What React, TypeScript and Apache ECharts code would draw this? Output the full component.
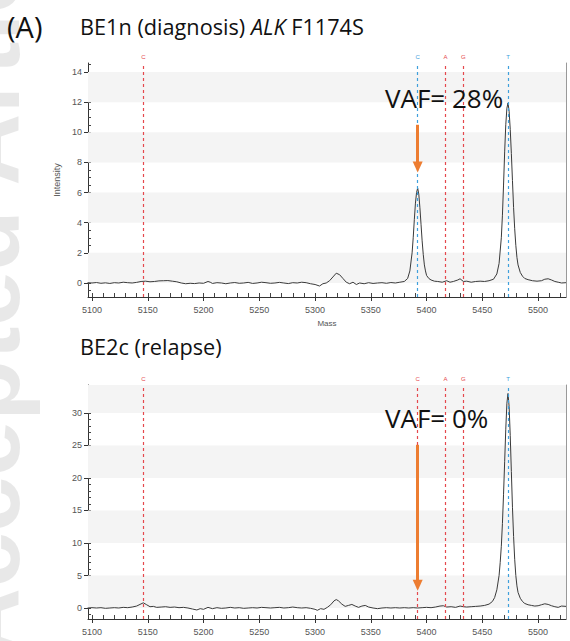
import React, { useEffect, useRef } from 'react';
import * as echarts from 'echarts';

// ---------- data ----------
const topSpectrum: [number, number][] = [
  [5096, 0.02], [5100, 0.0], [5104, 0.03], [5108, -0.02], [5112, 0.01], [5116, -0.03], [5120, 0.02],
  [5124, 0.0], [5128, 0.05], [5132, 0.02], [5136, 0.0], [5140, 0.04], [5144, 0.1], [5148, 0.12],
  [5152, 0.08], [5156, 0.1], [5160, 0.14], [5164, 0.15], [5168, 0.16], [5172, 0.12], [5176, 0.08],
  [5180, 0.0], [5184, -0.05], [5188, -0.02], [5192, -0.04], [5196, 0.0], [5200, -0.02], [5204, 0.1],
  [5206, 0.05], [5208, -0.03], [5212, 0.02], [5216, 0.0], [5220, -0.05], [5224, 0.0], [5228, 0.03],
  [5232, -0.02], [5236, 0.0], [5240, 0.04], [5244, -0.03], [5248, 0.0], [5252, 0.05], [5256, 0.02],
  [5260, -0.02], [5264, 0.0], [5268, 0.04], [5272, 0.0], [5276, -0.04], [5280, 0.02], [5284, 0.0],
  [5288, 0.05], [5292, 0.02], [5296, -0.05], [5300, -0.1], [5304, -0.2], [5307, -0.05], [5310, 0.0],
  [5313, 0.15], [5316, 0.4], [5319, 0.65], [5322, 0.55], [5325, 0.3], [5328, 0.05], [5331, -0.05],
  [5334, 0.05], [5337, -0.1], [5340, 0.0], [5344, -0.05], [5348, 0.02], [5352, -0.03], [5356, 0.0],
  [5360, 0.02], [5364, -0.02], [5368, 0.03], [5372, 0.0], [5376, 0.05], [5380, 0.1], [5383, 0.3],
  [5385, 0.8], [5387, 2.0], [5388, 3.0], [5389, 4.2], [5390, 5.3], [5391, 6.0], [5392, 6.3],
  [5393, 5.9], [5394, 5.0], [5395, 3.9], [5396, 2.8], [5397, 1.9], [5398, 1.2], [5399, 0.8],
  [5400, 0.5], [5402, 0.3], [5404, 0.2], [5407, 0.12], [5410, 0.1], [5414, 0.05], [5418, 0.15],
  [5421, 0.05], [5424, 0.1], [5428, 0.2], [5430, 0.28], [5433, 0.1], [5436, 0.12], [5440, 0.05],
  [5444, 0.1], [5448, 0.12], [5452, 0.1], [5456, 0.15], [5460, 0.25], [5463, 0.6], [5465, 1.3],
  [5467, 3.0], [5468, 4.5], [5469, 6.5], [5470, 8.7], [5471, 10.5], [5472, 11.6], [5473, 11.95],
  [5474, 11.4], [5475, 10.2], [5476, 8.6], [5477, 6.8], [5478, 5.0], [5479, 3.6], [5480, 2.5],
  [5481, 1.7], [5482, 1.2], [5484, 0.7], [5486, 0.45], [5488, 0.3], [5491, 0.22], [5495, 0.15],
  [5499, 0.12], [5503, 0.15], [5506, 0.25], [5509, 0.28], [5512, 0.2], [5515, 0.1], [5518, 0.05],
  [5521, 0.0], [5525, 0.02],
];

const bottomSpectrum: [number, number][] = [
  [5096, 0.0], [5100, 0.05], [5104, 0.0], [5108, 0.05], [5112, -0.05], [5116, 0.0], [5120, 0.05],
  [5124, 0.0], [5128, 0.1], [5132, 0.05], [5136, 0.15], [5140, 0.3], [5143, 0.55], [5146, 0.8],
  [5149, 0.5], [5152, 0.2], [5155, 0.25], [5158, 0.1], [5162, 0.15], [5166, 0.2], [5170, 0.1],
  [5174, 0.15], [5178, 0.05], [5182, 0.1], [5186, 0.0], [5190, -0.15], [5194, -0.3], [5197, -0.1],
  [5200, -0.2], [5204, 0.1], [5208, -0.1], [5212, 0.05], [5216, -0.05], [5220, 0.0], [5224, 0.1],
  [5228, 0.0], [5232, 0.05], [5236, -0.05], [5240, 0.0], [5244, 0.05], [5248, 0.0], [5252, 0.1],
  [5256, 0.05], [5260, 0.0], [5264, 0.05], [5268, 0.1], [5272, 0.0], [5276, 0.05], [5280, 0.15],
  [5284, 0.05], [5288, 0.0], [5292, 0.05], [5296, -0.05], [5300, -0.2], [5302, -0.35], [5305, -0.1],
  [5308, -0.2], [5311, 0.1], [5314, 0.5], [5317, 1.1], [5319, 1.3], [5321, 1.1], [5324, 0.6],
  [5327, 0.25], [5330, 0.4], [5333, 0.55], [5336, 0.3], [5339, 0.1], [5342, 0.3], [5345, 0.4],
  [5348, 0.15], [5352, 0.0], [5356, -0.1], [5360, 0.0], [5364, 0.05], [5368, 0.0], [5372, 0.05],
  [5376, 0.0], [5380, 0.05], [5384, 0.0], [5388, 0.05], [5392, 0.0], [5396, 0.05], [5400, 0.1],
  [5404, 0.05], [5408, 0.15], [5412, 0.3], [5415, 0.35], [5418, 0.15], [5422, 0.2], [5426, 0.1],
  [5430, 0.3], [5433, 0.2], [5436, 0.15], [5440, 0.2], [5444, 0.25], [5448, 0.3], [5452, 0.4],
  [5456, 0.6], [5459, 1.0], [5461, 1.6], [5463, 2.8], [5465, 5.0], [5466, 7.0], [5467, 9.5],
  [5468, 13.0], [5469, 17.5], [5470, 22.5], [5471, 27.5], [5472, 31.5], [5473, 33.0], [5474, 31.0],
  [5475, 26.5], [5476, 21.0], [5477, 15.5], [5478, 11.0], [5479, 7.5], [5480, 5.0], [5481, 3.4],
  [5482, 2.4], [5484, 1.5], [5486, 1.0], [5488, 0.7], [5491, 0.5], [5494, 0.4], [5497, 0.3],
  [5500, 0.35], [5503, 0.5], [5506, 0.65], [5509, 0.55], [5512, 0.35], [5515, 0.2], [5518, 0.1],
  [5521, 0.3], [5525, 0.25],
];

const xMajorTicks = [5100, 5150, 5200, 5250, 5300, 5350, 5400, 5450, 5500];
const xMinorTicks = [
  5100, 5110, 5120, 5130, 5140, 5150, 5160, 5170, 5180, 5190, 5200, 5210, 5220, 5230, 5240, 5250,
  5260, 5270, 5280, 5290, 5300, 5310, 5320, 5330, 5340, 5350, 5360, 5370, 5380, 5390, 5400, 5410,
  5420, 5430, 5440, 5450, 5460, 5470, 5480, 5490, 5500, 5510, 5520,
];
const topYMajor = [0, 2, 4, 6, 8, 10, 12, 14];
const topYMinor = [
  -0.5, 0, 0.5, 1, 1.5, 2, 2.5, 3, 3.5, 4, 4.5, 5, 5.5, 6, 6.5, 7, 7.5, 8, 8.5, 9, 9.5, 10, 10.5,
  11, 11.5, 12, 12.5, 13, 13.5, 14, 14.5,
];
const bottomYMajor = [0, 5, 10, 15, 20, 25, 30];
const bottomYMinor = [
  -1, 0, 1, 2, 3, 4, 5, 6, 7, 8, 9, 10, 11, 12, 13, 14, 15, 16, 17, 18, 19, 20, 21, 22, 23, 24, 25,
  26, 27, 28, 29, 30, 31, 32, 33, 34,
];
const topBands: [number, number][] = [[0, 2], [4, 6], [8, 10], [12, 14]];
const bottomBands: [number, number][] = [[0, 5], [10, 15], [20, 25], [30, 34.3]];

const markerMasses = [5146, 5392, 5417, 5433, 5473];
const markerLabels = ['C', 'C', 'A', 'G', 'T'];
const topMarkerKinds = ['ref', 'probe', 'ref', 'ref', 'probe'];
const bottomMarkerKinds = ['ref', 'ref', 'ref', 'ref', 'probe'];

const topArrow = { mass: 5392, from: 10.5, to: 7.7 };
const bottomArrow = { mass: 5392, from: 25.1, to: 3.5 };

const topTitle = ['BE1n (diagnosis) ', 'ALK', ' F1174S'];
const bottomTitle = 'BE2c (relapse)';
const panelLabel = '(A)';
const topVaf = 'VAF= 28%';
const bottomVaf = 'VAF= 0%';
const watermark = 'Accepted Article';

// ---------- styles ----------
const X_MIN = 5096.4;
const X_MAX = 5525;
const RED = '#e5484d';
const BLUE = '#3fa0dc';
const ORANGE = '#ed7d31';
const TICK_FONT = 'Liberation Sans';
const TEXT_FONT = 'Open Sans';

function panel(
  g: number,
  spectrum: [number, number][],
  yMin: number,
  yMax: number,
  yMajor: number[],
  yMinor: number[],
  bands: [number, number][],
  kinds: string[],
  arrow: { mass: number; from: number; to: number },
  showNames: boolean
) {
  const labelStyle = { fontSize: 9, color: '#555', fontFamily: TICK_FONT, formatter: (v: number) => String(v) };
  const xAxes = [
    {
      gridIndex: g, type: 'value', min: X_MIN, max: X_MAX, position: 'bottom',
      axisLine: { show: true, onZero: false, lineStyle: { color: '#333', width: 1 } },
      axisTick: { show: true, customValues: xMajorTicks, length: 4, lineStyle: { color: '#333' } },
      axisLabel: { customValues: xMajorTicks, margin: 8, ...labelStyle },
      splitLine: { show: false },
      name: showNames ? 'Mass' : '', nameLocation: 'middle', nameGap: 22,
      nameTextStyle: { fontSize: 8, color: '#555', fontFamily: TICK_FONT },
    },
    {
      gridIndex: g, type: 'value', min: X_MIN, max: X_MAX, position: 'bottom', offset: 0,
      axisLine: { show: false, onZero: false },
      axisTick: { show: true, inside: true, customValues: xMinorTicks, length: 4, lineStyle: { color: '#444' } },
      axisLabel: { show: false }, splitLine: { show: false },
    },
  ];
  const yAxes = [
    {
      gridIndex: g, type: 'value', min: yMin, max: yMax, position: 'left',
      axisLine: { show: true, onZero: false, lineStyle: { color: '#333', width: 1 } },
      axisTick: { show: true, customValues: yMajor, length: 4, lineStyle: { color: '#333' } },
      axisLabel: { customValues: yMajor, margin: 6, ...labelStyle },
      splitLine: { show: false }, splitArea: { show: false },
      name: showNames ? 'Intensity' : '', nameLocation: 'middle', nameGap: 18,
      nameTextStyle: { fontSize: 9, color: '#555', fontFamily: TICK_FONT },
    },
    {
      gridIndex: g, type: 'value', min: yMin, max: yMax, position: 'left', offset: 0,
      axisLine: { show: false, onZero: false },
      axisTick: { show: true, inside: true, customValues: yMinor, length: 3, lineStyle: { color: '#444' } },
      axisLabel: { show: false }, splitLine: { show: false },
    },
    {
      gridIndex: g, type: 'value', min: yMin, max: yMax, position: 'right', offset: 0,
      axisLine: { show: true, onZero: false, lineStyle: { color: '#999', width: 1 } },
      axisTick: { show: false }, axisLabel: { show: false }, splitLine: { show: false },
    },
  ];
  const xi = g * 2;
  const yi = g * 3;
  const vlines = markerMasses.map((m, i) => {
    const c = kinds[i] === 'probe' ? BLUE : RED;
    return [
      {
        coord: [m, yMin], symbol: 'none',
        lineStyle: { color: c, type: [3, 3], width: 1.2, opacity: 1 },
        itemStyle: { color: c },
        label: { show: true, formatter: markerLabels[i], position: 'end', fontSize: 6, color: c, distance: 3 },
      },
      { coord: [m, yMax], symbol: 'none', itemStyle: { color: c } },
    ];
  });
  const arrowItem = [
    { coord: [arrow.mass, arrow.from], symbol: 'none', lineStyle: { color: ORANGE, width: 3, type: 'solid' }, itemStyle: { color: ORANGE }, label: { show: false } },
    { coord: [arrow.mass, arrow.to], symbol: 'triangle', symbolSize: [10, 11], itemStyle: { color: ORANGE } },
  ];
  const series = [
    {
      type: 'line', xAxisIndex: xi, yAxisIndex: yi, data: [], z: 1, silent: true,
      markArea: {
        silent: true,
        itemStyle: { color: '#f4f4f4' },
        data: bands.map(([a, b]) => [{ yAxis: a }, { yAxis: b }]),
      },
    },
    {
      type: 'line', xAxisIndex: xi, yAxisIndex: yi, data: spectrum, z: 3, silent: true,
      showSymbol: false, symbol: 'none',
      lineStyle: { color: '#3a3a3a', width: 1 },
      markLine: {
        silent: true, symbol: ['none', 'none'], animation: false,
        label: { show: false },
        data: [...vlines, arrowItem],
      },
    },
  ];
  return { xAxes, yAxes, series };
}

export default function App() {
  const ref = useRef<HTMLDivElement>(null);
  useEffect(() => {
    document.body.style.margin = '0';
    const chart = echarts.init(ref.current!, null, { renderer: 'svg' });
    const p1 = panel(0, topSpectrum, -0.93, 14.6, topYMajor, topYMinor, topBands, topMarkerKinds, topArrow, true);
    const p2 = panel(1, bottomSpectrum, -1.69, 34.3, bottomYMajor, bottomYMinor, bottomBands, bottomMarkerKinds, bottomArrow, false);
    const textStyle = { fontFamily: TEXT_FONT, fill: '#111' };
    const option: any = {
      animation: false,
      backgroundColor: '#fff',
      grid: [
        { left: 88, top: 63, width: 478, height: 234 },
        { left: 88, top: 385, width: 478, height: 234 },
      ],
      xAxis: [...p1.xAxes, ...p2.xAxes],
      yAxis: [...p1.yAxes, ...p2.yAxes],
      series: [...p1.series, ...p2.series],
      graphic: [
        {
          type: 'text', x: 34, y: 660, rotation: Math.PI / 2, z: 0, silent: true,
          style: {
            text: watermark, fontSize: 100, fontWeight: 'bold', fontFamily: 'Liberation Sans',
            fill: 'rgba(0,0,0,0.09)', align: 'left', verticalAlign: 'bottom',
          },
        },
        {
          type: 'text', x: 7, y: 26, z: 100,
          style: { text: panelLabel, fontSize: 29, verticalAlign: 'middle', ...textStyle },
        },
        {
          type: 'text', x: 80, y: 26, z: 100,
          style: {
            text: `{n|${topTitle[0]}}{i|${topTitle[1]}}{n|${topTitle[2]}}`,
            verticalAlign: 'middle',
            rich: {
              n: { fontSize: 21.7, ...textStyle },
              i: { fontSize: 21.7, fontStyle: 'italic', ...textStyle },
            },
          },
        },
        {
          type: 'text', x: 80, y: 346, z: 100,
          style: { text: bottomTitle, fontSize: 21.7, verticalAlign: 'middle', ...textStyle },
        },
        {
          type: 'text', x: 385, y: 98, z: 100,
          style: { text: topVaf, fontSize: 26, verticalAlign: 'middle', ...textStyle },
        },
        {
          type: 'text', x: 385, y: 418, z: 100,
          style: { text: bottomVaf, fontSize: 26, verticalAlign: 'middle', ...textStyle },
        },
      ],
    };
    chart.setOption(option);
    return () => chart.dispose();
  }, []);
  return (
    <div
      ref={ref}
      style={{ width: 570, height: 641, position: 'absolute', left: 0, top: 0, background: '#fff' }}
    />
  );
}
